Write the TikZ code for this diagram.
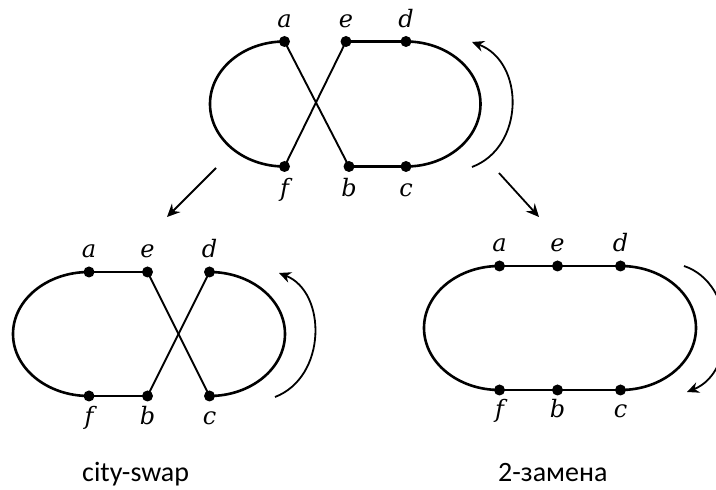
\documentclass[tikz,border=0pt]{standalone}
\usepackage{fontspec}
\setmainfont{Carlito}
\newfontfamily\lblfont{DejaVu Serif}
\usetikzlibrary{arrows.meta}
\begin{document}
\begin{tikzpicture}[x=1pt,y=1pt,
  vdot/.style={circle,fill=black,inner sep=0pt,minimum size=11pt},
  lbl/.style={anchor=base,inner sep=0pt,font=\lblfont\itshape\fontsize{24}{24}\selectfont},
  captxt/.style={anchor=base west,inner sep=0pt,font=\fontsize{28}{28}\selectfont},
  tour/.style={line width=2.6pt},
  cross/.style={line width=1.9pt},
  rot/.style={line width=1.8pt,-{Stealth[length=12pt,width=11pt,inset=4pt]}},
  trans/.style={line width=1.8pt,-{Stealth[length=13pt,width=12pt,inset=4.5pt]}}]
\useasboundingbox (0,0) rectangle (716,490);

% ---------- top figure ----------
\node[vdot] (ta) at (284.5,448.5) {};
\node[vdot] (te) at (346,448.5) {};
\node[vdot] (td) at (406,448.5) {};
\node[vdot] (tf) at (284.5,323.5) {};
\node[vdot] (tb) at (349,323.5) {};
\node[vdot] (tc) at (406,323.5) {};
\draw[tour] (ta.center) arc[start angle=90,end angle=270,x radius=74.5pt,y radius=62.5pt];
\draw[tour] (td.center) arc[start angle=90,end angle=-90,x radius=74.5pt,y radius=62.5pt];
\draw[tour] (te.center) -- (td.center);
\draw[tour] (tb.center) -- (tc.center);
\draw[cross] (ta.center) -- (tb.center);
\draw[cross] (te.center) -- (tf.center);
\node[lbl] (tla) at (284.5,462.5) {a};
\node[lbl] (tle) at (346,462.5) {e};
\node[lbl] (tld) at (406,462.5) {d};
\node[lbl] (tlf) at (284.5,293.5) {f};
\node[lbl] (tlb) at (349,293.5) {b};
\node[lbl] (tlc) at (406,293.5) {c};
\coordinate (tr1) at (472,323);
\coordinate (tr2) at (472,448);
\draw[rot] (tr1) .. controls (525,343) and (525,428) .. (tr2);

% ---------- transformation arrows ----------
\coordinate (l1) at (216,322);
\coordinate (l2) at (167,273);
\coordinate (r1) at (499,317);
\coordinate (r2) at (539,273);
\draw[trans] (l1) -- (l2);
\draw[trans] (r1) -- (r2);

% ---------- bottom left: city-swap ----------
\node[vdot] (la) at (89,218) {};
\node[vdot] (le) at (147.5,218) {};
\node[vdot] (ld) at (209.5,218) {};
\node[vdot] (lf) at (89,94) {};
\node[vdot] (lb) at (147.5,94) {};
\node[vdot] (lc) at (209.5,94) {};
\draw[tour] (la.center) arc[start angle=90,end angle=270,x radius=76pt,y radius=62pt];
\draw[tour] (ld.center) arc[start angle=90,end angle=-90,x radius=75.5pt,y radius=62pt];
\draw[tour] (la.center) -- (le.center);
\draw[tour] (lf.center) -- (lb.center);
\draw[cross] (le.center) -- (lc.center);
\draw[cross] (ld.center) -- (lb.center);
\node[lbl] (lla) at (89,232.5) {a};
\node[lbl] (lle) at (147.5,232.5) {e};
\node[lbl] (lld) at (209.5,232.5) {d};
\node[lbl] (llf) at (89,65) {f};
\node[lbl] (llb) at (147.5,65) {b};
\node[lbl] (llc) at (209.5,65) {c};
\coordinate (lr1) at (275,93);
\coordinate (lr2) at (279,217);
\draw[rot] (lr1) .. controls (327,113) and (327,198) .. (lr2);
\node[captxt] (capl) at (82,8) {city-swap};

% ---------- bottom right: 2-opt ----------
\node[vdot] (ra) at (499.5,224) {};
\node[vdot] (re) at (557.5,224) {};
\node[vdot] (rd) at (620.5,224) {};
\node[vdot] (rf) at (499.5,100) {};
\node[vdot] (rb) at (557.5,100) {};
\node[vdot] (rc) at (620.5,100) {};
\draw[tour] (ra.center) arc[start angle=90,end angle=270,x radius=75.5pt,y radius=62pt];
\draw[tour] (rd.center) arc[start angle=90,end angle=-90,x radius=75.5pt,y radius=62pt];
\draw[tour] (ra.center) -- (re.center) -- (rd.center);
\draw[tour] (rf.center) -- (rb.center) -- (rc.center);
\node[lbl] (rla) at (499.5,238) {a};
\node[lbl] (rle) at (557.5,238) {e};
\node[lbl] (rld) at (620.5,238) {d};
\node[lbl] (rlf) at (499.5,72) {f};
\node[lbl] (rlb) at (557.5,72) {b};
\node[lbl] (rlc) at (620.5,72) {c};
\coordinate (rr1) at (684,224);
\coordinate (rr2) at (687,98);
\begin{scope}
\clip (0,0) rectangle (716,490);
\draw[rot] (rr1) .. controls (737,206) and (737,118) .. (rr2);
\end{scope}
\node[captxt] (capr) at (498,8) {2-замена};
\end{tikzpicture}
\end{document}
